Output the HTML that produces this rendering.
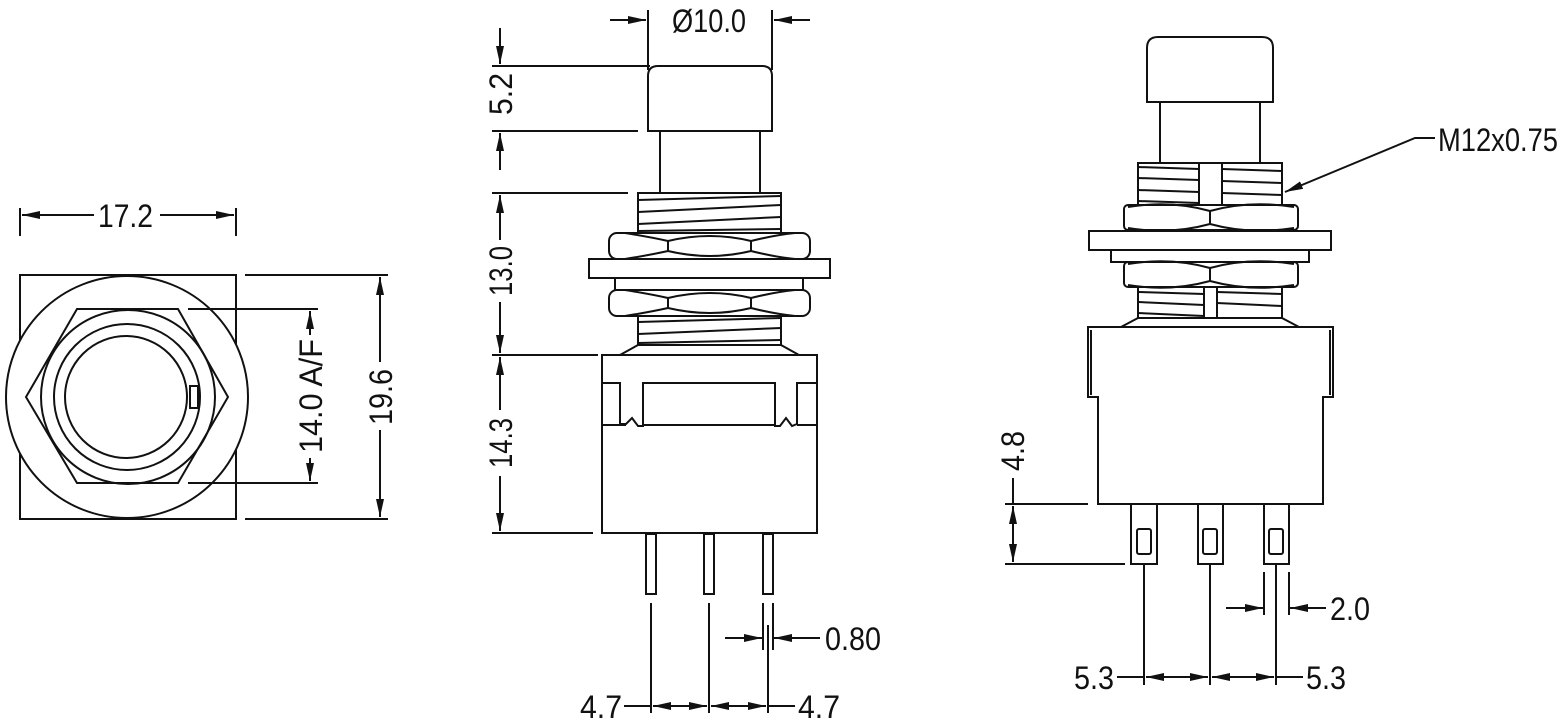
<!DOCTYPE html>
<html><head><meta charset="utf-8"><style>
html,body{margin:0;padding:0;background:#fff}
svg{display:block}
text{font-family:"Liberation Sans Narrow","Liberation Sans",sans-serif;font-size:32px;fill:#111}
</style></head><body>
<svg width="1565" height="726" viewBox="0 0 1565 726" xmlns="http://www.w3.org/2000/svg">
<defs>
<marker id="a" viewBox="0 0 18 8" refX="18" refY="4" markerWidth="18" markerHeight="8" markerUnits="userSpaceOnUse" orient="auto-start-reverse"><path d="M0,0 L18,4 L0,8z" fill="#111"/></marker>
</defs>
<g fill="none" stroke="#111" stroke-width="2">
<!-- LEFT VIEW -->
<rect x="20" y="275" width="216" height="244"/>
<circle cx="127" cy="397" r="121" fill="#fff"/>
<polygon points="77,309 178,309 228,397 178,483 77,483 26,397" fill="#fff"/>
<circle cx="128" cy="397" r="87"/>
<circle cx="127" cy="397" r="73"/>
<circle cx="126" cy="397" r="61"/>
<rect x="190" y="386" width="8" height="22"/>
<line x1="20" y1="208" x2="20" y2="236"/>
<line x1="236" y1="208" x2="236" y2="236"/>
<line x1="22" y1="215" x2="94" y2="215" marker-start="url(#a)"/>
<line x1="160" y1="215" x2="234" y2="215" marker-end="url(#a)"/>
<line x1="245" y1="275" x2="388" y2="275"/>
<line x1="245" y1="519" x2="388" y2="519"/>
<line x1="380" y1="277" x2="380" y2="362" marker-start="url(#a)"/>
<line x1="380" y1="430" x2="380" y2="517" marker-end="url(#a)"/>
<line x1="188" y1="309" x2="318" y2="309"/>
<line x1="188" y1="483" x2="318" y2="483"/>
<line x1="310" y1="311" x2="310" y2="335" marker-start="url(#a)"/>
<line x1="310" y1="458" x2="310" y2="481" marker-end="url(#a)"/>

<!-- MIDDLE VIEW -->
<path d="M648,131 L648,76 Q648,66 658,66 L762,66 Q772,66 772,76 L772,131 Z"/>
<line x1="660" y1="131" x2="660" y2="193"/><line x1="760" y1="131" x2="760" y2="193"/>
<rect x="638" y="193" width="143" height="40"/>
<line x1="638" y1="200" x2="781" y2="196"/><line x1="638" y1="212" x2="781" y2="205"/><line x1="638" y1="224" x2="781" y2="217"/><line x1="638" y1="231" x2="781" y2="229"/>
<rect x="609" y="233" width="201" height="26" rx="8"/>
<path d="M625,233 Q650,237 668,241 L668,251 Q650,255 625,259 M668,241 Q710,231 751,241 M668,251 Q710,261 751,251 M751,241 L751,251 M751,241 Q775,235 795,233 M751,251 Q775,257 795,259"/>
<rect x="589" y="259" width="241" height="19"/>
<rect x="615" y="278" width="188" height="12"/>
<rect x="609" y="290" width="201" height="26" rx="8"/>
<path d="M625,290 Q650,294 668,298 L668,308 Q650,312 625,316 M668,298 Q710,288 751,298 M668,308 Q710,318 751,308 M751,298 L751,308 M751,298 Q775,292 795,290 M751,308 Q775,314 795,316"/>
<rect x="638" y="316" width="143" height="29"/>
<line x1="638" y1="322" x2="781" y2="318"/><line x1="638" y1="334" x2="781" y2="328"/><line x1="638" y1="343" x2="781" y2="340"/>
<line x1="620" y1="355" x2="638" y2="345"/><line x1="781" y1="345" x2="799" y2="355"/>
<rect x="602" y="355" width="215" height="178"/>
<path d="M602,383 L620,383 L620,424 L626,424 L632,418 L638,426 L643,426 L643,383 L775,383 L775,426 L780,426 L786,418 L792,426 L797,424 L797,383 L817,383"/>
<line x1="602" y1="425" x2="626" y2="425"/><line x1="643" y1="425" x2="775" y2="425"/><line x1="797" y1="425" x2="817" y2="425"/>
<rect x="646" y="534" width="10" height="60"/>
<rect x="704" y="534" width="10" height="60"/>
<rect x="763" y="534" width="10" height="60"/>
<!-- middle dims -->
<line x1="648" y1="10" x2="648" y2="70"/><line x1="772" y1="10" x2="772" y2="70"/>
<line x1="610" y1="20" x2="646" y2="20" marker-end="url(#a)"/>
<line x1="810" y1="20" x2="774" y2="20" marker-end="url(#a)"/>
<line x1="492" y1="66" x2="650" y2="66"/><line x1="492" y1="131" x2="638" y2="131"/>
<line x1="500" y1="28" x2="500" y2="64" marker-end="url(#a)"/>
<line x1="500" y1="170" x2="500" y2="133" marker-end="url(#a)"/>
<line x1="492" y1="193" x2="628" y2="193"/><line x1="492" y1="355" x2="598" y2="355"/><line x1="492" y1="533" x2="593" y2="533"/>
<line x1="500" y1="195" x2="500" y2="240" marker-start="url(#a)"/>
<line x1="500" y1="302" x2="500" y2="353" marker-end="url(#a)"/>
<line x1="500" y1="357" x2="500" y2="410" marker-start="url(#a)"/>
<line x1="500" y1="476" x2="500" y2="531" marker-end="url(#a)"/>
<line x1="651" y1="603" x2="651" y2="713"/><line x1="709" y1="603" x2="709" y2="713"/><line x1="768" y1="625" x2="768" y2="713"/>
<line x1="763" y1="603" x2="763" y2="650"/><line x1="773" y1="603" x2="773" y2="650"/>
<line x1="725" y1="638" x2="762" y2="638" marker-end="url(#a)"/>
<line x1="820" y1="638" x2="774" y2="638" marker-end="url(#a)"/>
<line x1="624" y1="706" x2="651" y2="706"/>
<line x1="653" y1="706" x2="707" y2="706" marker-start="url(#a)" marker-end="url(#a)"/>
<line x1="711" y1="706" x2="766" y2="706" marker-start="url(#a)" marker-end="url(#a)"/>
<line x1="768" y1="706" x2="795" y2="706"/>

<!-- RIGHT VIEW -->
<path d="M1147,102 L1147,48 Q1147,37 1158,37 L1262,37 Q1273,37 1273,48 L1273,102 Z"/>
<line x1="1160" y1="102" x2="1160" y2="162"/><line x1="1260" y1="102" x2="1260" y2="162"/>
<rect x="1138" y="163" width="144" height="42"/>
<line x1="1199" y1="163" x2="1199" y2="205"/><line x1="1222" y1="163" x2="1222" y2="205"/>
<path d="M1138,167 L1199,169 M1138,178 L1199,180 M1138,190 L1199,192 M1138,201 L1199,203 M1222,169 L1282,171 M1222,181 L1282,183 M1222,193 L1282,195"/>
<rect x="1124" y="205" width="174" height="25" rx="4"/>
<path d="M1128,207 Q1170,200 1210,211 L1210,224 Q1170,235 1128,228 M1210,211 Q1250,200 1294,207 M1210,224 Q1250,235 1294,228"/>
<rect x="1089" y="231" width="242" height="19"/>
<rect x="1111" y="250" width="198" height="12"/>
<rect x="1124" y="262" width="174" height="25" rx="4"/>
<path d="M1128,264 Q1170,257 1210,268 L1210,281 Q1170,292 1128,285 M1210,268 Q1250,257 1294,264 M1210,281 Q1250,292 1294,285"/>
<rect x="1138" y="287" width="144" height="31"/>
<line x1="1204" y1="287" x2="1204" y2="318"/><line x1="1217" y1="287" x2="1217" y2="318"/>
<path d="M1138,292 L1204,294 M1138,302 L1204,305 M1138,313 L1204,316 M1217,292 L1282,294 M1217,303 L1282,306"/>
<line x1="1121" y1="327" x2="1138" y2="318"/><line x1="1282" y1="318" x2="1299" y2="327"/>
<path d="M1088,327 L1333,327 L1333,397 L1323,397 L1323,504 L1098,504 L1098,397 L1088,397 Z"/>
<line x1="1091" y1="330" x2="1091" y2="395"/><line x1="1330" y1="330" x2="1330" y2="395"/>
<rect x="1131" y="504" width="26" height="60"/>
<rect x="1198" y="504" width="25" height="60"/>
<rect x="1264" y="504" width="25" height="60"/>
<rect x="1137" y="529" width="14" height="25" rx="2"/>
<rect x="1203" y="529" width="14" height="25" rx="2"/>
<rect x="1269" y="529" width="14" height="25" rx="2"/>
<!-- right dims -->
<line x1="1005" y1="504" x2="1088" y2="504"/><line x1="1005" y1="564" x2="1125" y2="564"/>
<line x1="1013" y1="478" x2="1013" y2="504"/>
<line x1="1013" y1="506" x2="1013" y2="562" marker-start="url(#a)" marker-end="url(#a)"/>
<line x1="1144" y1="564" x2="1144" y2="685"/><line x1="1210" y1="564" x2="1210" y2="685"/><line x1="1276" y1="564" x2="1276" y2="685"/>
<line x1="1264" y1="572" x2="1264" y2="615"/><line x1="1289" y1="572" x2="1289" y2="615"/>
<line x1="1226" y1="608" x2="1263" y2="608" marker-end="url(#a)"/>
<line x1="1326" y1="608" x2="1290" y2="608" marker-end="url(#a)"/>
<line x1="1117" y1="677" x2="1144" y2="677"/>
<line x1="1146" y1="677" x2="1208" y2="677" marker-start="url(#a)" marker-end="url(#a)"/>
<line x1="1212" y1="677" x2="1274" y2="677" marker-start="url(#a)" marker-end="url(#a)"/>
<line x1="1276" y1="677" x2="1303" y2="677"/>
<polyline points="1435,138 1415,138 1285,192" marker-end="url(#a)"/>
</g>
<g>
<text x="98" y="227" textLength="55" lengthAdjust="spacingAndGlyphs">17.2</text>
<text transform="translate(392,397) rotate(-90)" x="-28" textLength="56" lengthAdjust="spacingAndGlyphs">19.6</text>
<text transform="translate(322,396) rotate(-90)" x="-57" textLength="114" lengthAdjust="spacingAndGlyphs">14.0 A/F</text>
<text x="672" y="32" textLength="74" lengthAdjust="spacingAndGlyphs">Ø10.0</text>
<text transform="translate(512,94) rotate(-90)" x="-21" textLength="42" lengthAdjust="spacingAndGlyphs">5.2</text>
<text transform="translate(512,271) rotate(-90)" x="-25" textLength="50" lengthAdjust="spacingAndGlyphs">13.0</text>
<text transform="translate(512,443) rotate(-90)" x="-25" textLength="50" lengthAdjust="spacingAndGlyphs">14.3</text>
<text x="825" y="650" textLength="56" lengthAdjust="spacingAndGlyphs">0.80</text>
<text x="580" y="718" textLength="42" lengthAdjust="spacingAndGlyphs">4.7</text>
<text x="798" y="718" textLength="42" lengthAdjust="spacingAndGlyphs">4.7</text>
<text transform="translate(1024,451) rotate(-90)" x="-20" textLength="40" lengthAdjust="spacingAndGlyphs">4.8</text>
<text x="1438" y="151" textLength="120" lengthAdjust="spacingAndGlyphs">M12x0.75</text>
<text x="1330" y="620" textLength="40" lengthAdjust="spacingAndGlyphs">2.0</text>
<text x="1074" y="689" textLength="40" lengthAdjust="spacingAndGlyphs">5.3</text>
<text x="1306" y="689" textLength="40" lengthAdjust="spacingAndGlyphs">5.3</text>
</g>
</svg>
</body></html>
